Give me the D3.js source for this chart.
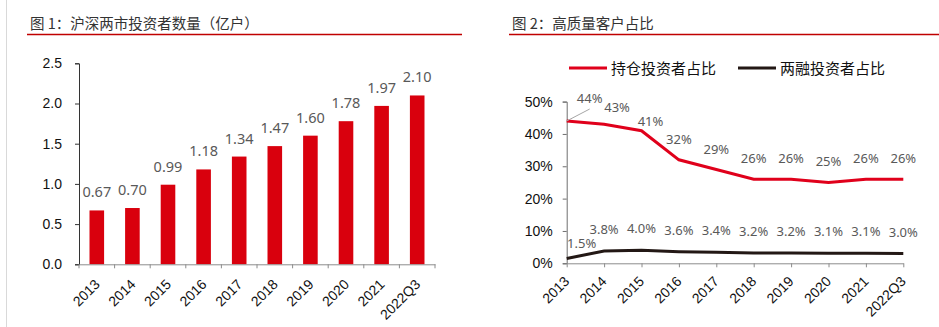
<!DOCTYPE html>
<html>
<head>
<meta charset="utf-8">
<script src="https://cdn.jsdelivr.net/npm/d3@7"></script>
<style>
  html, body { margin: 0; padding: 0; background: #fff; }
  svg { display: block; }
  .tick text { font-family: "Liberation Sans", Arial, sans-serif; font-size: 14px; fill: #111; }
</style>
</head>
<body>
<svg id="chart" width="939" height="327"></svg>
<script>
// Categories shared by both panels
const years = ["2013", "2014", "2015", "2016", "2017", "2018", "2019", "2020", "2021", "2022Q3"];

// Panel 1: investor accounts in Shanghai & Shenzhen (hundred million)
const investors = [0.67, 0.70, 0.99, 1.18, 1.34, 1.47, 1.60, 1.78, 1.97, 2.10];
const investorTicks = [0, 0.5, 1.0, 1.5, 2.0, 2.5];

// Panel 2: share of high-quality clients (%)
const holdingShare = [44, 43, 41, 32, 29, 26, 26, 25, 26, 26];
const marginShare = [1.5, 3.8, 4.0, 3.6, 3.4, 3.2, 3.2, 3.1, 3.1, 3.0];
const shareTicks = [0, 10, 20, 30, 40, 50];

const titles = ["图 1：沪深两市投资者数量（亿户）", "图 2：高质量客户占比"];
const seriesNames = ["持仓投资者占比", "两融投资者占比"];

const RED_BAR = "#d9000d";
const RED_LINE = "#e0001b";
const DARK_LINE = "#231815";
const LABEL = "#595959";
const CJK = '"Noto Sans CJK SC", "Noto Sans", sans-serif';
const NUM = '"Noto Sans", "Liberation Sans", sans-serif';

const svg = d3.select("#chart");

// thin page border on the left
svg.append("line").attr("x1", 6.5).attr("x2", 6.5).attr("y1", 0).attr("y2", 327)
  .attr("stroke", "#d9d9d9").attr("stroke-width", 1);

// panel headings with red rule
function heading(text, x, x1, x2) {
  svg.append("text").attr("x", x).attr("y", 29)
    .attr("font-family", CJK).attr("font-size", 14.5).attr("fill", "#333")
    .text(text);
  svg.append("line").attr("x1", x1).attr("x2", x2).attr("y1", 34.5).attr("y2", 34.5)
    .attr("stroke", "#c00000").attr("stroke-width", 1.5);
}
heading(titles[0], 30, 27, 462);
heading(titles[1], 512, 509, 939);

// rotated category labels: anchor the end of the text below its position
function rotateLabels(axisG, dx, dy) {
  axisG.selectAll(".tick text")
    .attr("text-anchor", "end")
    .attr("x", 0).attr("y", 0).attr("dy", null)
    .attr("transform", `translate(${dx},${dy}) rotate(-45)`);
}

// ---------- Panel 1: bar chart ----------
{
  const x = d3.scaleBand().domain(years).range([79, 435]).paddingInner(0.59).paddingOuter(0.295);
  const y = d3.scaleLinear().domain([0, 2.5]).range([264.3, 63.3]);
  const g = svg.append("g");

  g.selectAll("rect.bar").data(investors).join("rect")
    .attr("class", "bar")
    .attr("x", (d, i) => x(years[i]))
    .attr("width", x.bandwidth())
    .attr("y", d => y(d))
    .attr("height", d => y(0) - y(d))
    .attr("fill", RED_BAR);

  g.selectAll("text.val").data(investors).join("text")
    .attr("class", "val")
    .attr("x", (d, i) => x(years[i]) + x.bandwidth() / 2)
    .attr("y", d => y(d) - 13)
    .attr("text-anchor", "middle")
    .attr("font-family", NUM).attr("font-size", 14.5).attr("fill", LABEL)
    .text(d => d.toFixed(2));

  // y axis
  const ya = g.append("g").attr("transform", "translate(79,0)")
    .call(d3.axisLeft(y).tickValues(investorTicks).tickFormat(d3.format(".1f")).tickSize(4).tickPadding(13));
  ya.select(".domain").attr("stroke", "#333");
  ya.selectAll(".tick line").attr("stroke", "#333");

  // x axis: labels at band centres, tick marks at band edges
  const xa = g.append("g").attr("transform", `translate(0,${y(0)})`)
    .call(d3.axisBottom(x).tickSize(0).tickSizeOuter(0));
  xa.select(".domain").attr("stroke", "#8c8c8c");
  rotateLabels(xa, 4, 21);
  const edges = years.map(d => x(d) - x.step() * x.paddingInner() / 2).concat([x.range()[1]]);
  xa.selectAll("line.edge").data(edges).join("line")
    .attr("class", "edge")
    .attr("x1", d => d).attr("x2", d => d).attr("y1", 0).attr("y2", 4)
    .attr("stroke", "#8c8c8c");
}

// ---------- Panel 2: line chart ----------
{
  const x = d3.scalePoint().domain(years).range([566.7, 903.3]);
  const y = d3.scaleLinear().domain([0, 50]).range([263.3, 101.6]);
  const g = svg.append("g");

  // legend
  const legend = [
    { name: seriesNames[0], color: RED_LINE, x: 569 },
    { name: seriesNames[1], color: DARK_LINE, x: 738 }
  ];
  legend.forEach(l => {
    g.append("line").attr("x1", l.x).attr("x2", l.x + 38).attr("y1", 68).attr("y2", 68)
      .attr("stroke", l.color).attr("stroke-width", 3);
    g.append("text").attr("x", l.x + 42).attr("y", 73.5)
      .attr("font-family", CJK).attr("font-size", 15).attr("fill", "#111")
      .text(l.name);
  });

  // y axis
  const ya = g.append("g").attr("transform", "translate(566.7,0)")
    .call(d3.axisLeft(y).tickValues(shareTicks).tickFormat(d => d + "%").tickSize(4).tickPadding(10));
  ya.select(".domain").attr("stroke", "#6e6e6e");
  ya.selectAll(".tick line").attr("stroke", "#6e6e6e");

  // x axis
  const xa = g.append("g").attr("transform", `translate(0,${y(0)})`)
    .call(d3.axisBottom(x).tickSize(4).tickSizeOuter(0));
  xa.select(".domain").attr("stroke", "#8c8c8c");
  xa.selectAll(".tick line").attr("stroke", "#8c8c8c");
  rotateLabels(xa, 3, 19);

  const line = d3.line().x((d, i) => x(years[i])).y(d => y(d));
  g.append("path").datum(holdingShare).attr("d", line)
    .attr("fill", "none").attr("stroke", RED_LINE).attr("stroke-width", 3);
  g.append("path").datum(marginShare).attr("d", line)
    .attr("fill", "none").attr("stroke", DARK_LINE).attr("stroke-width", 3);

  // label nudges for crowded points at the start of the series
  const redNudge = { 0: [23, -2], 1: [13, 4], 2: [9, 11] };
  const darkNudge = { 0: [15, 6.5] };

  // leader line for the first holding-share label
  g.append("line")
    .attr("x1", x(years[0])).attr("y1", y(holdingShare[0]))
    .attr("x2", x(years[0]) + 23).attr("y2", y(holdingShare[0]) - 12)
    .attr("stroke", "#a6a6a6").attr("stroke-width", 1);

  g.selectAll("text.red").data(holdingShare).join("text")
    .attr("class", "red")
    .attr("x", (d, i) => x(years[i]) + (redNudge[i] ? redNudge[i][0] : 0))
    .attr("y", (d, i) => y(d) - 16 + (redNudge[i] ? redNudge[i][1] : 0))
    .attr("text-anchor", "middle")
    .attr("font-family", NUM).attr("font-size", 13).attr("fill", LABEL)
    .text(d => d + "%");

  g.selectAll("text.dark").data(marginShare).join("text")
    .attr("class", "dark")
    .attr("x", (d, i) => x(years[i]) + (darkNudge[i] ? darkNudge[i][0] : 0))
    .attr("y", (d, i) => y(d) - 17 + (darkNudge[i] ? darkNudge[i][1] : 0))
    .attr("text-anchor", "middle")
    .attr("font-family", NUM).attr("font-size", 13).attr("fill", LABEL)
    .text(d => d.toFixed(1) + "%");
}
</script>
</body>
</html>
